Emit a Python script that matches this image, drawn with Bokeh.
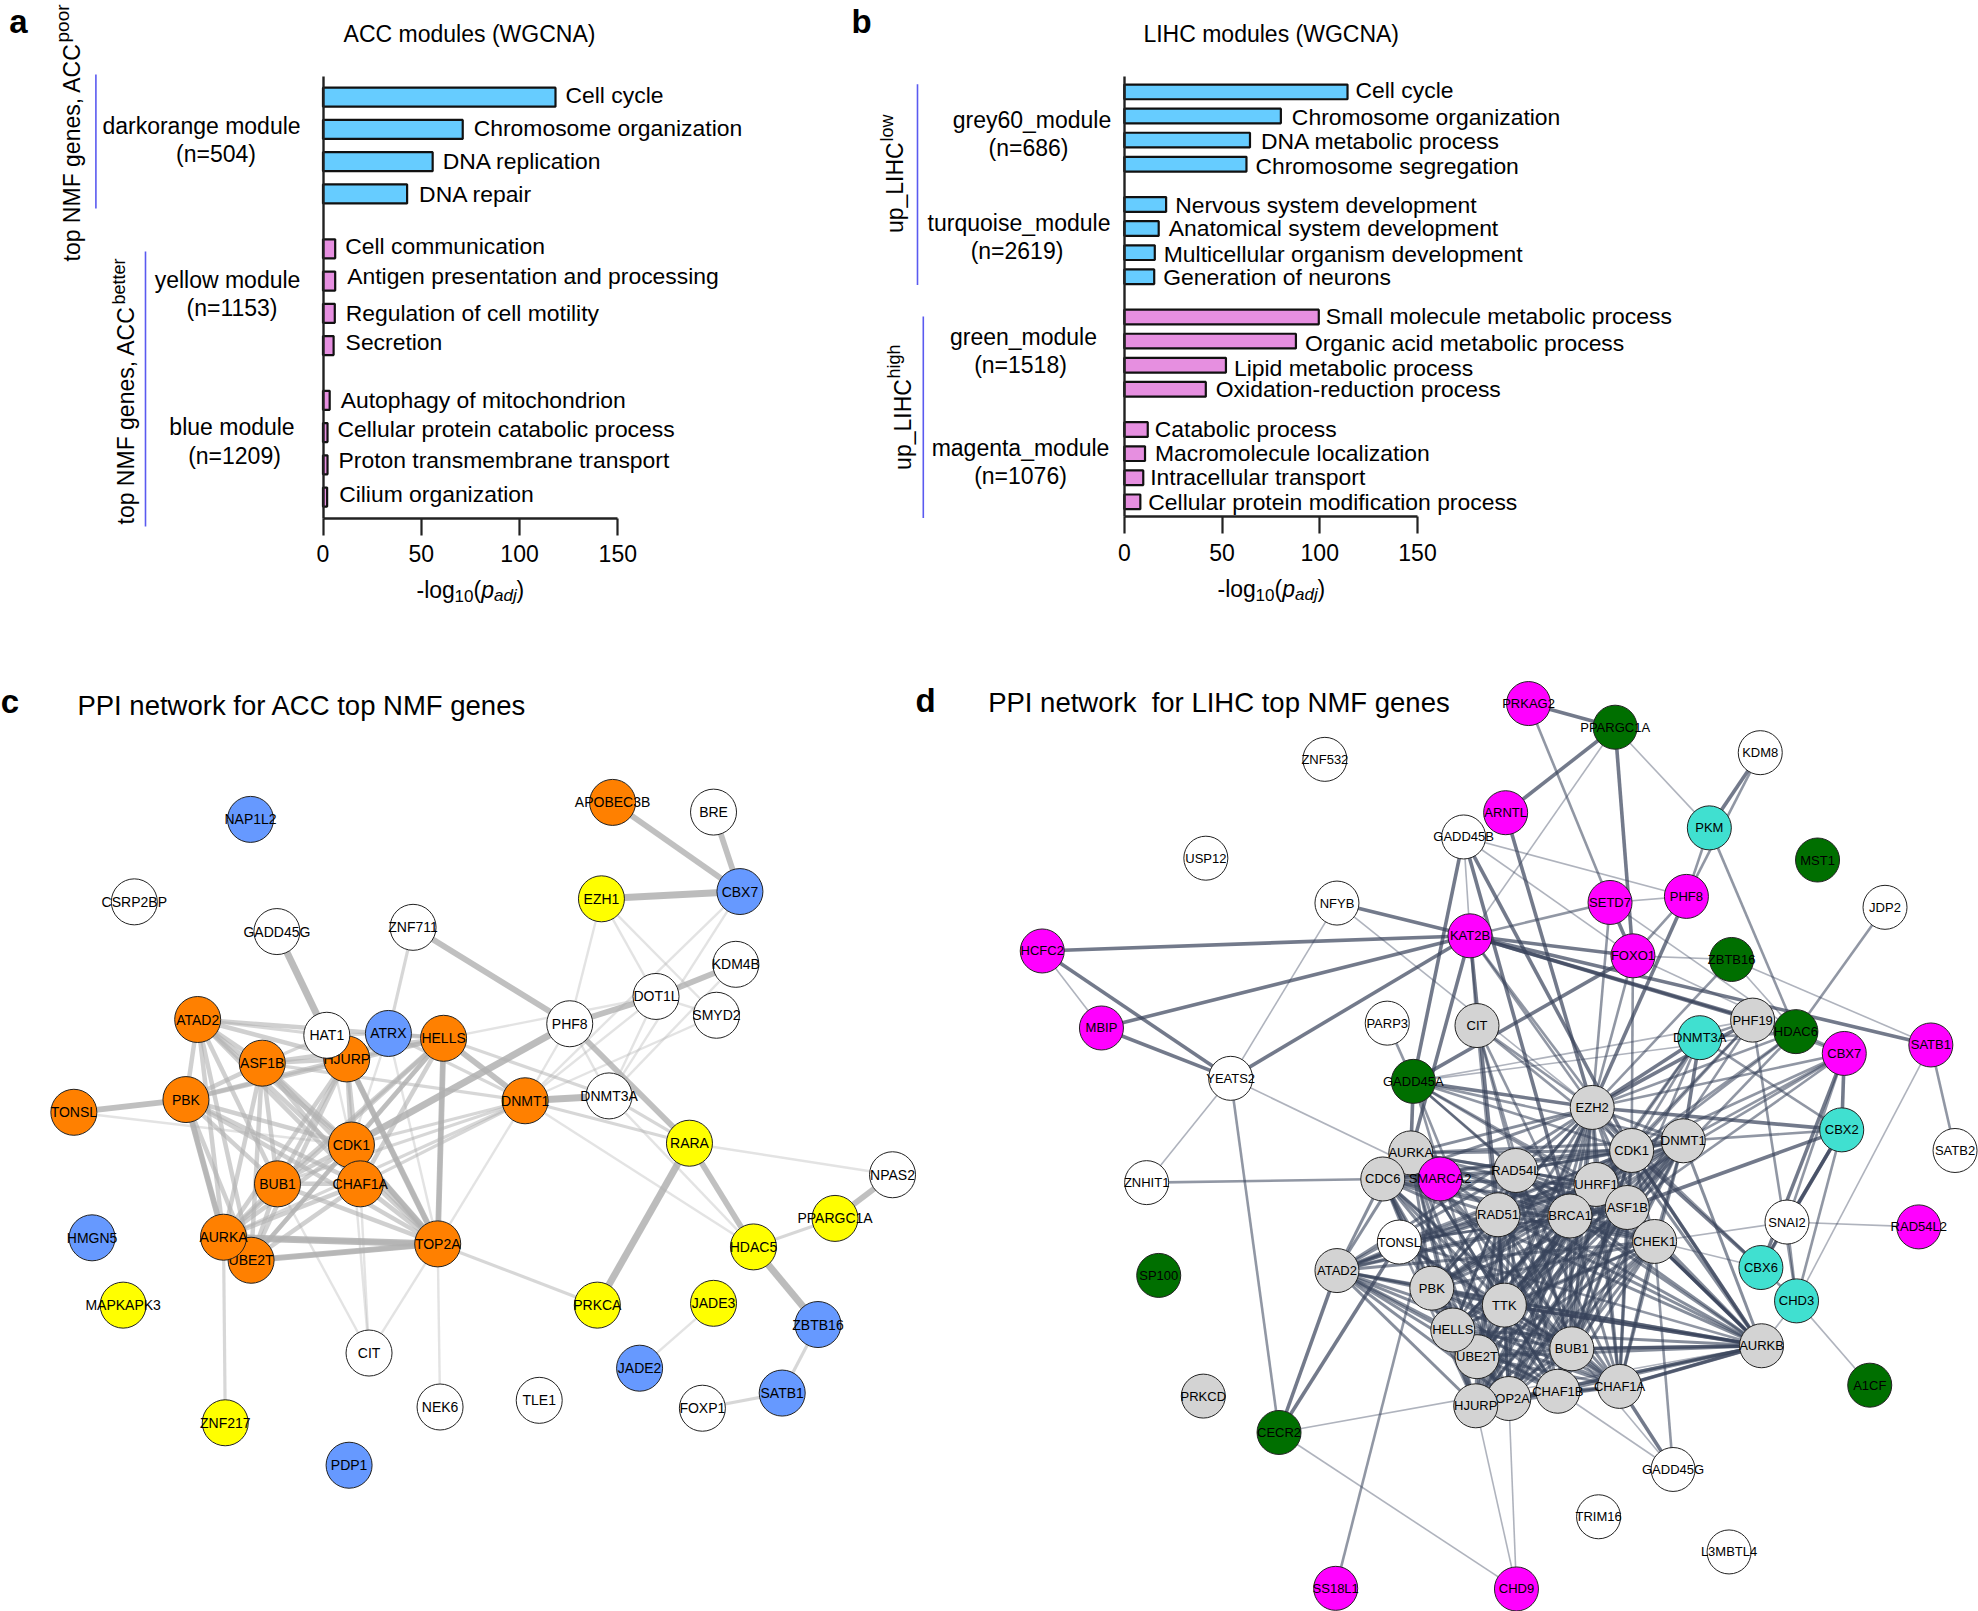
from itertools import combinations
from math import pi
from bokeh.plotting import figure
from bokeh.layouts import column, row
from bokeh.models import Range1d, FixedTicker
from bokeh.core.properties import value
from bokeh.embed import file_html
from bokeh.resources import INLINE

FONT = "Liberation Sans"

# ---- panel a data
a_terms = ["Cell cycle", "Chromosome organization", "DNA replication", "DNA repair",
           "Cell communication", "Antigen presentation and processing", "Regulation of cell motility", "Secretion",
           "Autophagy of mitochondrion", "Cellular protein catabolic process", "Proton transmembrane transport", "Cilium organization"]
a_values = [118.3, 71.1, 55.8, 42.8, 6.2, 6.2, 6.0, 5.4, 3.4, 2.3, 2.3, 2.1]
a_groups = [0, 0, 0, 0, 1, 1, 1, 1, 2, 2, 2, 2]
a_colors = ["#66CCFF"] * 4 + ["#E68FE0"] * 8
a_label_dy = [-2, -1, -1, 0, -3, -5, 0, -4, 0, -4, -5, -3]
a_label_dx = [10, 11, 10, 12, 10, 12, 11, 12, 11, 10, 11, 12]

# ---- panel b data
b_terms = ["Cell cycle", "Chromosome organization", "DNA metabolic process", "Chromosome segregation",
           "Nervous system development", "Anatomical system development", "Multicellular organism development", "Generation of neurons",
           "Small molecule metabolic process", "Organic acid metabolic process", "Lipid metabolic process", "Oxidation-reduction process",
           "Catabolic process", "Macromolecule localization", "Intracellular transport", "Cellular protein modification process"]
b_values = [114.2, 80.1, 64.3, 62.5, 21.4, 17.6, 15.6, 15.3, 99.5, 87.8, 52.0, 41.7, 12.0, 10.6, 9.7, 8.2]
b_groups = [0, 0, 0, 0, 1, 1, 1, 1, 2, 2, 2, 2, 3, 3, 3, 3]
b_colors = ["#66CCFF"] * 8 + ["#E68FE0"] * 8
b_label_dy = [-2, 1, 1, 2, 1, -1, 1, 0, -1, 2, 3, 0, -1, -1, -1, 0]
b_label_dx = [8, 11, 11, 9, 9, 10, 9, 9, 7, 9, 8, 10, 7, 10, 7, 8]

x_ticks = [0, 50, 100, 150]

# ---- panel c network
c_orange, c_blue, c_yellow, c_white = "#FF8000", "#6699FF", "#FFFF00", "#FFFFFF"
c_nodes = [
    ("NAP1L2", 426, 262, c_blue), ("CSRP2BP", 228, 398, c_white), ("GADD45G", 471, 447, c_white),
    ("ZNF711", 703, 440, c_white), ("APOBEC3B", 1043, 234, c_orange), ("BRE", 1215, 250, c_white),
    ("EZH1", 1024, 393, c_yellow), ("CBX7", 1260, 381, c_blue), ("KDM4B", 1253, 501, c_white),
    ("DOT1L", 1117, 554, c_white), ("SMYD2", 1220, 585, c_white), ("PHF8", 970, 599, c_white),
    ("ATAD2", 336, 592, c_orange), ("HJURP", 590, 657, c_orange), ("HAT1", 556, 618, c_white),
    ("ATRX", 661, 615, c_blue), ("HELLS", 755, 623, c_orange), ("ASF1B", 446, 664, c_orange),
    ("PBK", 316, 724, c_orange), ("TONSL", 125, 745, c_orange), ("DNMT1", 894, 726, c_orange),
    ("DNMT3A", 1037, 718, c_white), ("CDK1", 598, 799, c_orange), ("BUB1", 472, 863, c_orange),
    ("CHAF1A", 613, 863, c_orange), ("RARA", 1174, 796, c_yellow), ("NPAS2", 1520, 848, c_white),
    ("PPARGC1A", 1422, 920, c_yellow), ("HDAC5", 1283, 967, c_yellow), ("HMGN5", 156, 952, c_blue),
    ("UBE2T", 427, 989, c_orange), ("AURKA", 380, 951, c_orange), ("TOP2A", 745, 962, c_orange),
    ("MAPKAPK3", 209, 1063, c_yellow), ("PRKCA", 1017, 1063, c_yellow), ("JADE3", 1215, 1060, c_yellow),
    ("ZBTB16", 1393, 1095, c_blue), ("JADE2", 1089, 1167, c_blue), ("CIT", 628, 1142, c_white),
    ("SATB1", 1332, 1208, c_blue), ("FOXP1", 1196, 1233, c_white), ("NEK6", 749, 1231, c_white),
    ("TLE1", 918, 1220, c_white), ("ZNF217", 383, 1257, c_yellow), ("PDP1", 594, 1327, c_blue),
]
c_core = ["ATAD2", "ASF1B", "HJURP", "HELLS", "PBK", "CDK1", "BUB1", "CHAF1A", "AURKA", "UBE2T", "TOP2A"]
c_xheavy = "EZH1-CBX7 HDAC5-ZBTB16 AURKA-TOP2A RARA-PRKCA PHF8-CDK1 DNMT1-DNMT3A GADD45G-HAT1".split()
c_heavy = "APOBEC3B-CBX7 BRE-CBX7 ZNF711-PHF8 TONSL-PBK RARA-HDAC5 NPAS2-PPARGC1A UBE2T-TOP2A CDK1-TOP2A PBK-AURKA HJURP-TOP2A HELLS-TOP2A PHF8-RARA PHF8-DOT1L KDM4B-DOT1L HELLS-DNMT1".split()
c_mid = "ATAD2-HAT1 ASF1B-HAT1 HJURP-HAT1 HAT1-ATRX ATRX-HELLS DNMT1-CDK1 DNMT1-BUB1 DNMT1-CHAF1A DNMT1-AURKA HELLS-DNMT3A ASF1B-DNMT1 HDAC5-PPARGC1A TOP2A-PRKCA ZBTB16-SATB1 SATB1-FOXP1 ATRX-DNMT1 DNMT3A-RARA DNMT1-RARA ZNF711-ATRX AURKA-ZNF217".split()
c_light = "CDK1-CIT CHAF1A-CIT TOP2A-CIT TOP2A-NEK6 BUB1-CIT TONSL-CDK1 RARA-NPAS2 EZH1-PHF8 EZH1-DOT1L EZH1-SMYD2 CBX7-DNMT1 CBX7-DNMT3A KDM4B-DNMT3A SMYD2-DNMT1 DOT1L-DNMT1 DOT1L-DNMT3A DOT1L-SMYD2 PHF8-DNMT3A PHF8-DNMT1 DNMT3A-HDAC5 DNMT1-HDAC5 JADE2-JADE3 HELLS-DOT1L ATRX-CDK1 ATRX-TOP2A HAT1-CDK1 DNMT1-TOP2A".split()

# ---- panel d network
d_mag, d_green, d_turq, d_grey, d_white = "#FF00FF", "#006F00", "#40E0D0", "#D3D3D3", "#FFFFFF"
d_nodes = [
    ("PRKAG2", 861, 71, d_mag), ("PPARGC1A", 997, 110, d_green), ("ZNF532", 541, 163, d_white),
    ("KDM8", 1225, 152, d_white), ("ARNTL", 825, 251, d_mag), ("PKM", 1145, 276, d_turq),
    ("GADD45B", 759, 291, d_white), ("USP12", 354, 326, d_white), ("MST1", 1315, 329, d_green),
    ("PHF8", 1109, 389, d_mag), ("SETD7", 989, 399, d_mag), ("NFYB", 560, 400, d_white),
    ("JDP2", 1421, 407, d_white), ("KAT2B", 769, 454, d_mag), ("HCFC2", 97, 479, d_mag),
    ("FOXO1", 1025, 487, d_mag), ("ZBTB16", 1180, 493, d_green), ("PARP3", 639, 598, d_white),
    ("CIT", 780, 602, d_grey), ("PHF19", 1213, 593, d_grey), ("MBIP", 190, 606, d_mag),
    ("DNMT3A", 1130, 622, d_turq), ("HDAC6", 1281, 612, d_green), ("CBX7", 1357, 648, d_mag),
    ("SATB1", 1493, 634, d_mag), ("YEATS2", 393, 689, d_white), ("GADD45A", 680, 694, d_green),
    ("EZH2", 961, 737, d_grey), ("CBX2", 1353, 774, d_turq), ("DNMT1", 1104, 792, d_grey),
    ("AURKA", 676, 812, d_grey), ("CDK1", 1023, 808, d_grey), ("SATB2", 1531, 808, d_white),
    ("RAD54L", 841, 841, d_grey), ("CDC6", 632, 855, d_grey), ("SMARCA2", 722, 855, d_mag),
    ("UHRF1", 967, 864, d_grey), ("ZNHIT1", 261, 861, d_white), ("ASF1B", 1016, 902, d_grey),
    ("BRCA1", 926, 916, d_grey), ("RAD51", 813, 914, d_grey), ("SNAI2", 1267, 926, d_white),
    ("RAD54L2", 1474, 934, d_mag), ("CHEK1", 1059, 958, d_grey), ("TONSL", 658, 959, d_white),
    ("ATAD2", 560, 1006, d_grey), ("CBX6", 1226, 1001, d_turq), ("SP100", 280, 1014, d_green),
    ("CHD3", 1282, 1056, d_turq), ("PBK", 709, 1035, d_grey), ("TTK", 823, 1063, d_grey),
    ("UBE2T", 780, 1148, d_grey), ("HELLS", 742, 1104, d_grey), ("AURKB", 1227, 1130, d_grey),
    ("BUB1", 929, 1135, d_grey), ("A1CF", 1397, 1195, d_green), ("CHAF1A", 1004, 1197, d_grey),
    ("TOP2A", 830, 1217, d_grey), ("CHAF1B", 907, 1205, d_grey), ("HJURP", 778, 1229, d_grey),
    ("PRKCD", 350, 1213, d_grey), ("CECR2", 469, 1273, d_green), ("GADD45G", 1088, 1334, d_white),
    ("TRIM16", 971, 1412, d_white), ("L3MBTL4", 1176, 1470, d_white), ("SS18L1", 558, 1530, d_mag),
    ("CHD9", 842, 1531, d_mag),
]
d_core = ["EZH2", "DNMT1", "AURKA", "CDK1", "RAD54L", "CDC6", "UHRF1", "ASF1B", "BRCA1", "RAD51", "CHEK1",
          "ATAD2", "PBK", "TTK", "HELLS", "AURKB", "BUB1", "UBE2T", "CHAF1A", "CHAF1B", "TOP2A", "HJURP"]
d_heavy = "PRKAG2-PPARGC1A PPARGC1A-ARNTL PPARGC1A-FOXO1 KDM8-PKM GADD45B-GADD45A GADD45B-CDK1 GADD45B-BRCA1 NFYB-KAT2B HCFC2-KAT2B MBIP-KAT2B MBIP-YEATS2 YEATS2-KAT2B KAT2B-FOXO1 KAT2B-PHF19 KAT2B-SATB1 KAT2B-HDAC6 KAT2B-AURKA KAT2B-RAD51 FOXO1-GADD45A FOXO1-SETD7 PHF8-EZH2 PHF19-EZH2 DNMT3A-EZH2 DNMT3A-DNMT1 CBX7-CBX2 CBX7-CBX6 CBX2-CBX6 CBX2-SNAI2 CBX2-EZH2 CBX2-ASF1B CBX6-CDK1 GADD45G-CHAF1A CECR2-ATAD2 CECR2-TONSL GADD45A-EZH2 GADD45A-AURKA ARNTL-EZH2 HCFC2-YEATS2 AURKB-CHAF1A AURKB-TTK AURKB-BUB1 AURKB-CDK1 CHEK1-AURKB".split()
d_mid = "SS18L1-SMARCA2 PRKAG2-SETD7 KDM8-PHF8 PKM-PHF8 PKM-HDAC6 KAT2B-SETD7 KAT2B-EZH2 KAT2B-CDK1 KAT2B-CIT FOXO1-EZH2 FOXO1-CDK1 FOXO1-PHF8 SETD7-EZH2 JDP2-HDAC6 HDAC6-EZH2 HDAC6-CBX7 HDAC6-DNMT3A PHF19-CBX7 PHF19-CHD3 PHF19-DNMT3A DNMT3A-CBX2 DNMT3A-CDK1 CBX7-EZH2 CBX7-SNAI2 CBX2-CHD3 CBX2-DNMT1 SNAI2-CHD3 SNAI2-CBX6 CBX6-CHD3 CBX6-EZH2 GADD45G-CHEK1 YEATS2-CECR2 PARP3-GADD45A CIT-EZH2 CIT-TTK GADD45A-CDK1 GADD45A-RAD54L SATB1-SATB2 ZBTB16-EZH2 ZNHIT1-CDC6 TONSL-CDK1 TONSL-BRCA1 TONSL-TTK TONSL-ASF1B CBX7-ASF1B CBX7-DNMT1 GADD45A-DNMT1 GADD45A-UHRF1 GADD45A-BRCA1 GADD45A-ASF1B GADD45A-TTK GADD45A-TOP2A DNMT3A-UHRF1 DNMT3A-ASF1B DNMT3A-BRCA1 HDAC6-CDK1 HDAC6-ASF1B HDAC6-UHRF1 CBX7-CDK1 CBX7-BRCA1 PHF19-CDK1 PHF19-ASF1B PHF19-UHRF1 TONSL-RAD51 TONSL-BUB1 TONSL-AURKB TONSL-CHAF1A TONSL-TOP2A TONSL-HJURP CIT-RAD54L CIT-BRCA1 CIT-CDK1 CIT-BUB1 SMARCA2-RAD54L SMARCA2-BRCA1".split()
d_light = "PPARGC1A-PKM PPARGC1A-KAT2B GADD45B-KAT2B GADD45B-FOXO1 GADD45B-PHF8 NFYB-YEATS2 NFYB-EZH2 HCFC2-MBIP YEATS2-ZNHIT1 YEATS2-SMARCA2 FOXO1-ZBTB16 SETD7-PHF8 ZBTB16-HDAC6 ZBTB16-SATB1 SATB1-CHD3 SNAI2-RAD54L2 CHD3-A1CF CHD3-AURKB GADD45G-BUB1 GADD45G-CHAF1B CECR2-AURKB CECR2-CHD9 CHD9-HJURP CHD9-TOP2A GADD45A-HDAC6 SETD7-HDAC6 FOXO1-HDAC6 CBX6-CHEK1 SNAI2-CHEK1 GADD45A-PHF19".split()

# ---- layout calibration (reference pixels)
PAGE = 0
SPLIT_AB, SPLIT_CD, SPLIT_TB = 850, 960, 650
RIGHT, BOTTOM = 1978, 1611


def add_text(p, x, y, s, size, align="left", angle=0.0, style="normal", weight="normal", color="#000000"):
    p.text([x], [y], text=[s], text_font=value(FONT), text_font_size=f"{size}px", text_align=align,
           text_baseline="middle", angle=angle, text_font_style=style if weight == "normal" else weight,
           text_color=color)


def bar_panel(left, right, x0, x150, y_first, slot, bar_px, group_gap, ax_top, ax_bot, terms, vals, groups, colors, dxs, dys):
    k = 150 / (x150 - x0)
    fx = lambda px: (px - x0) * k
    fy = lambda py: (py - y_first) / slot
    p = figure(width=right - left, height=SPLIT_TB - PAGE, x_range=Range1d(fx(left), fx(right)),
               y_range=Range1d(fy(SPLIT_TB), fy(PAGE)), output_backend="svg", toolbar_location=None,
               min_border=0, outline_line_color=None, background_fill_color=None, border_fill_color=None)
    p.grid.visible = False
    ys = [i + group_gap * g for i, g in enumerate(groups)]
    p.hbar(y=ys, left=0, right=vals, height=bar_px / slot, fill_color=colors, line_color="#111111", line_width=2.2)
    xa = p.xaxis[0]
    xa.fixed_location = fy(ax_bot)
    xa.bounds = (0, 150)
    xa.ticker = FixedTicker(ticks=x_ticks)
    xa.major_tick_out = 17
    xa.major_tick_in = 0
    xa.minor_tick_line_color = None
    xa.axis_line_width = 2.4
    xa.major_tick_line_width = 2.2
    xa.axis_line_color = "#222222"
    xa.major_tick_line_color = "#222222"
    xa.major_label_text_font = FONT
    xa.major_label_text_font_size = "23px"
    xa.major_label_text_color = "#000000"
    xa.major_label_standoff = 10
    ya = p.yaxis[0]
    ya.fixed_location = 0
    ya.bounds = (fy(ax_bot), fy(ax_top))
    ya.ticker = FixedTicker(ticks=[])
    ya.minor_tick_line_color = None
    ya.axis_line_width = 2.4
    ya.axis_line_color = "#222222"
    for t, v, y, dx, dy in zip(terms, vals, ys, dxs, dys):
        p.text([v], [y], text=[t], x_offset=dx, y_offset=dy, text_font=value(FONT), text_font_size="22.9px",
               text_align="left", text_baseline="middle", text_color="#000000")
    return p, fx, fy


def xlabel(p, fx, fy, x, y):
    parts = [("-log", 23, 0, "normal", 38), ("10", 17, 6, "normal", 19), ("(", 23, 0, "normal", 7.7),
             ("p", 23, 0, "italic", 12.8), ("adj", 17, 6, "italic", 22.5), (")", 23, 0, "normal", 7.7)]
    for s, size, dy, style, w in parts:
        add_text(p, fx(x), fy(y + dy), s, size, style=style)
        x += w


BLUE_LINE = "#5A5AF0"


def vline(p, fx, fy, x, y1, y2):
    p.line([fx(x), fx(x)], [fy(y1), fy(y2)], line_color=BLUE_LINE, line_width=1.6)


# panel a
pa, fx, fy = bar_panel(PAGE, SPLIT_AB, 322.5, 617.3, 96.7, 32.25, 19, 0.7, 75.5, 517.5, a_terms, a_values,
                       a_groups, a_colors, a_label_dx, a_label_dy)
add_text(pa, fx(18), fy(21), "a", 33, "center", weight="bold")
add_text(pa, fx(469), fy(33.5), "ACC modules (WGCNA)", 23, "center")
vline(pa, fx, fy, 95.4, 74, 208)
vline(pa, fx, fy, 145, 251, 526)
add_text(pa, fx(71), fy(261), "top NMF genes, ACC", 23, angle=pi / 2)
add_text(pa, fx(62), fy(42), "poor", 19, angle=pi / 2)
add_text(pa, fx(125), fy(524), "top NMF genes, ACC", 23, angle=pi / 2)
add_text(pa, fx(118), fy(304), "better", 18, angle=pi / 2)
for s, x, y in [("darkorange module", 201, 125), ("(n=504)", 215.5, 153.5), ("yellow module", 227, 279),
                ("(n=1153)", 231.5, 307.5), ("blue module", 231.5, 426.5), ("(n=1209)", 234, 455)]:
    add_text(pa, fx(x), fy(y), s, 23, "center")
xlabel(pa, fx, fy, 416, 589)

# panel b
pb, fx, fy = bar_panel(SPLIT_AB, RIGHT, 1123.8, 1417, 91.4, 24.1, 14.7, 0.67, 75.5, 516, b_terms, b_values,
                       b_groups, b_colors, b_label_dx, b_label_dy)
add_text(pb, fx(861), fy(21), "b", 33, "center", weight="bold")
add_text(pb, fx(1270.7), fy(33.5), "LIHC modules (WGCNA)", 23, "center")
vline(pb, fx, fy, 917, 83.7, 284.5)
vline(pb, fx, fy, 922.8, 316, 517.5)
add_text(pb, fx(894.7), fy(232.6), "up_LIHC", 23, angle=pi / 2)
add_text(pb, fx(886), fy(141), "low", 18, angle=pi / 2)
add_text(pb, fx(902), fy(469.4), "up_LIHC", 23, angle=pi / 2)
add_text(pb, fx(893), fy(378), "high", 18, angle=pi / 2)
for s, x, y in [("grey60_module", 1031.5, 119), ("(n=686)", 1028, 147.5), ("turquoise_module", 1018.5, 222),
                ("(n=2619)", 1016.5, 250), ("green_module", 1023, 336), ("(n=1518)", 1020, 364),
                ("magenta_module", 1020, 447), ("(n=1076)", 1020, 475)]:
    add_text(pb, fx(x), fy(y), s, 23, "center")
xlabel(pb, fx, fy, 1217, 588)


def network(width, xr, yr, nodes, core, core_style, tiers, color, size, fsize):
    p = figure(width=width, height=BOTTOM - SPLIT_TB, x_range=Range1d(*xr), y_range=Range1d(*yr),
               output_backend="svg", toolbar_location=None, min_border=0, outline_line_color=None,
               background_fill_color=None, border_fill_color=None, x_axis_location=None, y_axis_location=None)
    p.grid.visible = False
    pos = {n[0]: (n[1], n[2]) for n in nodes}
    core_edges = [f"{a}-{b}" for a, b in combinations(core, 2)]
    for edges, w, alpha in [(core_edges, *core_style)] + tiers:
        xs = [[pos[e.split("-")[0]][0], pos[e.split("-")[1]][0]] for e in edges]
        ys = [[pos[e.split("-")[0]][1], pos[e.split("-")[1]][1]] for e in edges]
        p.multi_line(xs, ys, line_color=color, line_width=w, line_alpha=alpha)
    for name, x, y, col in nodes:
        p.scatter([x], [y], marker="circle", size=size, fill_color=col, line_color="#222222", line_width=1)
        p.text([x], [y], text=[name], text_font=value(FONT), text_font_size=f"{fsize}px", text_align="center",
               text_baseline="middle", text_color="#000000")
    return p


# panel c: coordinates on a 1.704 x 1.649 grid of the reference
cxr = (PAGE * 1.704, SPLIT_CD * 1.704)
cyr = ((BOTTOM - 660) * 1.649, (SPLIT_TB - 660) * 1.649)
pc = network(SPLIT_CD - PAGE, cxr, cyr, c_nodes, c_core, (4.5, 0.6),
             [(c_xheavy, 7, 0.85), (c_heavy, 5.8, 0.8), (c_mid, 3.2, 0.5), (c_light, 2.4, 0.35)], "#B0B0B0", 46, 14)
add_text(pc, 16, 68, "c", 33, "center", weight="bold")
add_text(pc, 131, 75, "PPI network for ACC top NMF genes", 27.5)
add_text(pc, 925 * 1.704, 40 * 1.649, "d", 33, "center", weight="bold")

# panel d
dxr = ((SPLIT_CD - 980) * 1.571, (RIGHT - 980) * 1.571)
dyr = ((BOTTOM - 660) * 1.649, (SPLIT_TB - 660) * 1.649)
pd = network(RIGHT - SPLIT_CD, dxr, dyr, d_nodes, d_core, (3.0, 0.6),
             [(d_heavy, 3.6, 0.7), (d_mid, 2.6, 0.55), (d_light, 1.6, 0.4)], "#37425A", 44, 13)
add_text(pd, 12, 70, "PPI network\u00a0 for LIHC top NMF genes", 27.5)

page = column(row(pa, pb, spacing=0), row(pc, pd, spacing=0), spacing=0)
open("out.html", "w").write(file_html(page, INLINE))
